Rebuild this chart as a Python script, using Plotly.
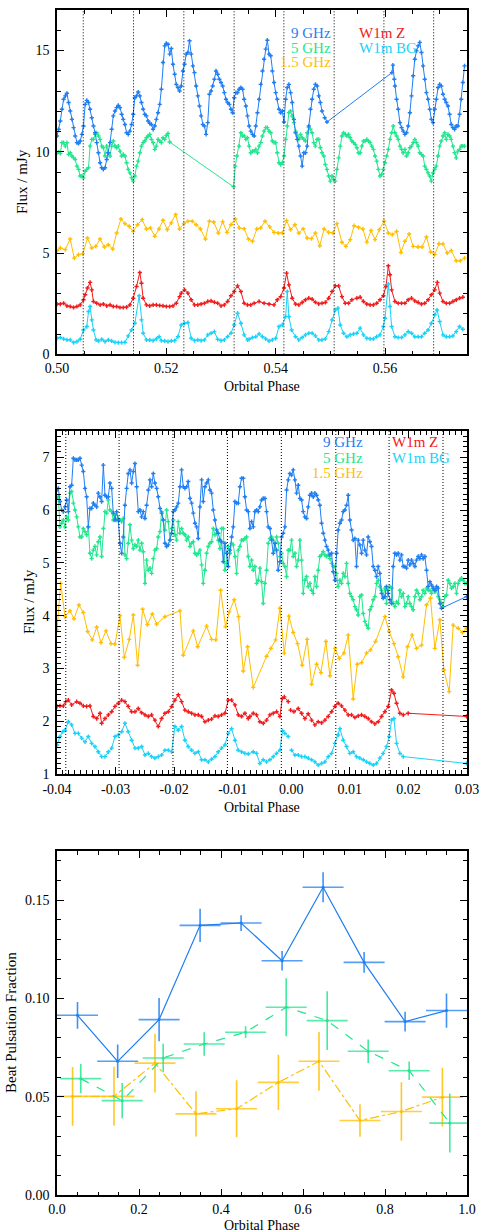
import plotly.graph_objects as go

# ---------------- Panel A: radio + optical fluxes, orbital phase 0.50-0.575 ----------------
A_9GHZ = [
    (0.50000, 10.78), (0.50030, 11.11), (0.50061, 11.52), (0.50091, 12.10), (0.50121, 12.59), (0.50152, 12.76),
    (0.50182, 12.89), (0.50212, 12.43), (0.50242, 12.01), (0.50273, 11.60), (0.50303, 11.19), (0.50333, 10.78),
    (0.50364, 10.45), (0.50394, 10.41), (0.50424, 10.53), (0.50455, 10.86), (0.50485, 11.27), (0.50515, 12.34),
    (0.50545, 12.54), (0.50576, 12.43), (0.50606, 12.10), (0.50636, 11.68), (0.50667, 11.27), (0.50697, 10.94),
    (0.50727, 10.45), (0.50758, 9.95), (0.50788, 9.46), (0.50818, 9.21), (0.50848, 9.13), (0.50879, 9.21),
    (0.50909, 9.62), (0.50939, 9.95), (0.50970, 10.45), (0.51000, 11.11), (0.51030, 11.77), (0.51061, 12.01),
    (0.51091, 12.18), (0.51121, 12.29), (0.51152, 12.18), (0.51182, 11.85), (0.51212, 11.60), (0.51242, 11.35),
    (0.51273, 10.94), (0.51303, 10.86), (0.51333, 11.02), (0.51364, 11.35), (0.51394, 11.85), (0.51424, 12.67),
    (0.51455, 12.76), (0.51485, 12.95), (0.51515, 12.76), (0.51545, 12.43), (0.51576, 12.10), (0.51606, 11.85),
    (0.51636, 11.77), (0.51667, 11.52), (0.51697, 11.40), (0.51727, 11.35), (0.51758, 11.11), (0.51788, 11.27),
    (0.51818, 11.60), (0.51848, 11.93), (0.51879, 12.34), (0.51909, 13.09), (0.51939, 14.41), (0.51970, 15.23),
    (0.52000, 15.35), (0.52030, 15.31), (0.52061, 14.82), (0.52091, 15.10), (0.52121, 14.32), (0.52152, 13.83),
    (0.52182, 13.33), (0.52212, 13.17), (0.52242, 13.00), (0.52273, 13.25), (0.52303, 13.99), (0.52333, 14.32),
    (0.52364, 14.82), (0.52394, 14.90), (0.52424, 15.48), (0.52455, 14.82), (0.52485, 14.24), (0.52515, 13.91),
    (0.52545, 13.25), (0.52576, 12.76), (0.52606, 12.26), (0.52636, 11.77), (0.52667, 11.35), (0.52697, 11.27),
    (0.52727, 10.86), (0.52758, 11.44), (0.52788, 12.84), (0.52818, 13.00), (0.52848, 13.25), (0.52879, 13.58),
    (0.52909, 13.99), (0.52939, 13.83), (0.52970, 13.58), (0.53000, 13.42), (0.53030, 13.25), (0.53061, 12.92),
    (0.53091, 12.59), (0.53121, 12.43), (0.53152, 12.34), (0.53182, 12.10), (0.53212, 11.93), (0.53242, 12.67),
    (0.53273, 12.92), (0.53303, 12.92), (0.53333, 13.09), (0.53364, 13.17), (0.53394, 13.09), (0.53424, 12.59),
    (0.53455, 12.26), (0.53485, 11.77), (0.53515, 11.27), (0.53545, 11.02), (0.53576, 10.86), (0.53606, 10.78),
    (0.53636, 11.27), (0.53667, 11.93), (0.53697, 12.59), (0.53727, 13.33), (0.53758, 13.99), (0.53788, 14.57),
    (0.53818, 15.07), (0.53848, 15.51), (0.53879, 14.82), (0.53909, 14.74), (0.53939, 13.99), (0.53970, 13.42),
    (0.54000, 12.92), (0.54030, 12.59), (0.54061, 12.10), (0.54091, 11.93), (0.54121, 12.01), (0.54152, 11.47),
    (0.54182, 12.59), (0.54212, 13.17), (0.54242, 13.33), (0.54273, 12.92), (0.54303, 12.43), (0.54333, 11.60),
    (0.54364, 10.94), (0.54394, 10.61), (0.54424, 10.28), (0.54455, 9.79), (0.54485, 9.29), (0.54515, 9.95),
    (0.54545, 9.95), (0.54576, 10.28), (0.54606, 11.27), (0.54636, 12.10), (0.54667, 12.59), (0.54697, 13.09),
    (0.54727, 13.33), (0.54758, 13.25), (0.54788, 12.76), (0.54818, 12.43), (0.54848, 12.01), (0.54897, 11.68),
    (0.54939, 11.47),
    (0.56127, 13.91), (0.56145, 14.28), (0.56170, 13.58), (0.56182, 13.25), (0.56212, 12.59), (0.56242, 12.10),
    (0.56273, 11.44), (0.56303, 11.19), (0.56333, 11.02), (0.56364, 10.86), (0.56394, 10.94), (0.56424, 11.27),
    (0.56455, 11.93), (0.56485, 12.76), (0.56515, 13.75), (0.56545, 14.57), (0.56576, 14.98), (0.56606, 15.23),
    (0.56636, 15.40), (0.56667, 14.90), (0.56697, 14.24), (0.56727, 13.58), (0.56758, 12.92), (0.56788, 12.59),
    (0.56818, 12.10), (0.56848, 11.60), (0.56879, 11.44), (0.56909, 12.10), (0.56939, 12.59), (0.56970, 13.17),
    (0.57000, 13.33), (0.57030, 13.25), (0.57061, 12.84), (0.57091, 12.59), (0.57121, 12.43), (0.57152, 12.26),
    (0.57182, 11.85), (0.57212, 11.35), (0.57242, 11.19), (0.57273, 11.11), (0.57303, 11.27), (0.57333, 11.27),
    (0.57364, 11.85), (0.57394, 12.59), (0.57424, 13.42), (0.57455, 14.24),
]

A_5GHZ = [
    (0.50000, 9.95), (0.50030, 9.98), (0.50061, 9.92), (0.50091, 10.45), (0.50121, 10.45), (0.50152, 10.28),
    (0.50182, 10.45), (0.50212, 9.87), (0.50242, 9.95), (0.50273, 9.79), (0.50303, 9.70), (0.50333, 9.62),
    (0.50364, 9.29), (0.50394, 9.13), (0.50424, 8.80), (0.50455, 8.80), (0.50485, 8.71), (0.50515, 9.04),
    (0.50545, 9.13), (0.50576, 9.21), (0.50606, 10.28), (0.50636, 10.61), (0.50667, 10.61), (0.50697, 10.86),
    (0.50727, 10.94), (0.50758, 10.78), (0.50788, 10.61), (0.50818, 10.28), (0.50848, 10.20), (0.50879, 9.79),
    (0.50909, 10.28), (0.50939, 9.95), (0.50970, 9.79), (0.51000, 10.28), (0.51030, 10.53), (0.51061, 10.28),
    (0.51091, 10.20), (0.51121, 10.28), (0.51152, 10.03), (0.51182, 9.79), (0.51212, 9.87), (0.51242, 9.79),
    (0.51273, 9.46), (0.51303, 9.13), (0.51333, 8.96), (0.51364, 8.71), (0.51394, 8.55), (0.51424, 8.80),
    (0.51455, 9.29), (0.51485, 9.54), (0.51515, 9.95), (0.51545, 10.28), (0.51576, 10.45), (0.51606, 10.53),
    (0.51636, 10.69), (0.51667, 10.78), (0.51697, 10.86), (0.51727, 10.61), (0.51758, 10.45), (0.51788, 10.12),
    (0.51818, 10.28), (0.51848, 10.61), (0.51879, 10.53), (0.51909, 10.45), (0.51939, 10.69), (0.51970, 10.61),
    (0.52000, 10.81), (0.52030, 10.91), (0.52061, 10.48),
    (0.53230, 8.27), (0.53261, 9.29), (0.53291, 9.79), (0.53333, 10.28), (0.53364, 10.94), (0.53394, 10.78),
    (0.53424, 10.78), (0.53455, 10.61), (0.53485, 10.69), (0.53515, 10.28), (0.53545, 9.95), (0.53576, 10.03),
    (0.53606, 10.03), (0.53636, 10.12), (0.53667, 9.95), (0.53697, 10.28), (0.53727, 10.45), (0.53758, 10.78),
    (0.53788, 11.02), (0.53818, 11.19), (0.53848, 11.19), (0.53879, 11.02), (0.53909, 10.94), (0.53939, 10.53),
    (0.53970, 10.45), (0.54000, 10.45), (0.54030, 9.95), (0.54061, 9.46), (0.54091, 9.37), (0.54121, 9.46),
    (0.54152, 9.79), (0.54182, 10.61), (0.54212, 11.27), (0.54242, 11.93), (0.54273, 12.01), (0.54303, 11.77),
    (0.54333, 11.44), (0.54364, 11.02), (0.54394, 10.78), (0.54424, 10.61), (0.54455, 10.86), (0.54485, 10.69),
    (0.54515, 10.61), (0.54545, 10.53), (0.54576, 10.94), (0.54606, 11.19), (0.54636, 11.11), (0.54667, 10.94),
    (0.54697, 10.45), (0.54727, 10.28), (0.54758, 10.61), (0.54788, 10.61), (0.54818, 10.20), (0.54848, 9.95),
    (0.54879, 9.79), (0.54909, 9.37), (0.54939, 9.13), (0.54970, 8.80), (0.55000, 8.55), (0.55030, 8.80),
    (0.55061, 8.63), (0.55091, 8.55), (0.55121, 9.13), (0.55152, 9.70), (0.55182, 10.28), (0.55212, 10.78),
    (0.55242, 10.94), (0.55273, 10.86), (0.55303, 10.78), (0.55333, 10.86), (0.55364, 10.69), (0.55394, 10.53),
    (0.55424, 10.45), (0.55455, 10.36), (0.55485, 10.20), (0.55515, 9.95), (0.55545, 9.95), (0.55576, 10.28),
    (0.55606, 10.53), (0.55636, 10.53), (0.55667, 10.61), (0.55697, 10.53), (0.55727, 10.45), (0.55758, 10.28),
    (0.55788, 10.12), (0.55818, 9.79), (0.55848, 9.54), (0.55879, 9.13), (0.55909, 8.80), (0.55939, 8.88),
    (0.55970, 9.13), (0.56000, 9.46), (0.56030, 9.79), (0.56061, 10.12), (0.56091, 10.61), (0.56121, 10.94),
    (0.56151, 11.27), (0.56182, 10.94), (0.56212, 10.78), (0.56242, 10.61), (0.56273, 10.28), (0.56303, 10.12),
    (0.56333, 9.95), (0.56364, 10.12), (0.56394, 9.79), (0.56424, 9.95), (0.56455, 10.20), (0.56485, 10.28),
    (0.56515, 10.45), (0.56545, 10.61), (0.56576, 10.45), (0.56606, 10.28), (0.56636, 9.95), (0.56667, 9.87),
    (0.56697, 9.79), (0.56727, 9.29), (0.56758, 9.13), (0.56788, 8.96), (0.56818, 8.80), (0.56848, 8.55),
    (0.56879, 8.96), (0.56909, 9.13), (0.56939, 9.29), (0.56970, 9.79), (0.57000, 10.28), (0.57030, 10.53),
    (0.57061, 10.78), (0.57091, 10.94), (0.57121, 10.61), (0.57152, 10.86), (0.57182, 10.78), (0.57212, 10.61),
    (0.57242, 10.28), (0.57273, 9.95), (0.57303, 9.70), (0.57333, 10.03), (0.57364, 10.12), (0.57394, 10.28),
    (0.57424, 10.28), (0.57455, 10.28),
]

A_1P5GHZ = [
    (0.50000, 5.12), (0.50061, 5.25), (0.50152, 5.17), (0.50242, 5.69), (0.50315, 4.75), (0.50394, 4.92),
    (0.50473, 4.97), (0.50558, 5.74), (0.50636, 5.25), (0.50709, 5.33), (0.50788, 5.69), (0.50867, 5.30),
    (0.50939, 5.41), (0.51018, 5.20), (0.51091, 5.99), (0.51170, 6.68), (0.51242, 6.45), (0.51321, 6.32),
    (0.51394, 6.07), (0.51473, 6.40), (0.51558, 6.65), (0.51636, 6.19), (0.51709, 6.24), (0.51788, 5.83),
    (0.51867, 6.19), (0.51939, 6.62), (0.52018, 6.16), (0.52091, 6.49), (0.52170, 6.90), (0.52242, 6.19),
    (0.52321, 6.45), (0.52394, 6.57), (0.52473, 6.57), (0.52545, 6.40), (0.52624, 6.19), (0.52715, 5.69),
    (0.52788, 6.57), (0.52867, 6.53), (0.52952, 5.99), (0.53030, 6.55), (0.53109, 6.02), (0.53182, 6.40),
    (0.53261, 6.68), (0.53333, 6.24), (0.53424, 6.20), (0.53503, 5.69), (0.53576, 5.58), (0.53655, 6.19),
    (0.53727, 6.24), (0.53806, 6.57), (0.53891, 6.29), (0.53970, 6.02), (0.54048, 5.99), (0.54121, 5.99),
    (0.54200, 6.60), (0.54273, 6.16), (0.54351, 6.40), (0.54424, 5.99), (0.54503, 6.20), (0.54576, 5.74),
    (0.54655, 5.71), (0.54727, 5.99), (0.54806, 5.36), (0.54885, 6.19), (0.54970, 6.02), (0.55048, 5.99),
    (0.55121, 6.45), (0.55212, 5.53), (0.55285, 5.33), (0.55364, 5.66), (0.55436, 6.35), (0.55515, 6.27),
    (0.55594, 6.19), (0.55667, 5.54), (0.55745, 6.11), (0.55818, 5.66), (0.55897, 6.16), (0.55982, 6.57),
    (0.56061, 5.99), (0.56133, 5.91), (0.56212, 6.07), (0.56291, 5.03), (0.56364, 5.58), (0.56442, 5.94),
    (0.56515, 5.33), (0.56606, 5.30), (0.56679, 5.30), (0.56758, 5.79), (0.56836, 5.05), (0.56909, 4.92),
    (0.56988, 5.46), (0.57061, 5.45), (0.57139, 5.00), (0.57212, 5.12), (0.57303, 4.62), (0.57376, 4.62),
    (0.57455, 4.75),
]

A_W1M_Z = [
    (0.50000, 2.48), (0.50061, 2.48), (0.50121, 2.52), (0.50182, 2.39), (0.50242, 2.36), (0.50303, 2.31),
    (0.50364, 2.36), (0.50424, 2.44), (0.50485, 2.69), (0.50515, 2.94), (0.50558, 3.27), (0.50606, 3.55),
    (0.50636, 3.18), (0.50667, 2.61), (0.50727, 2.52), (0.50788, 2.44), (0.50848, 2.48), (0.50909, 2.39),
    (0.50970, 2.44), (0.51030, 2.36), (0.51091, 2.36), (0.51152, 2.31), (0.51212, 2.31), (0.51273, 2.33),
    (0.51333, 2.44), (0.51394, 2.77), (0.51455, 3.35), (0.51515, 4.04), (0.51545, 3.51), (0.51576, 2.77),
    (0.51636, 2.44), (0.51697, 2.39), (0.51758, 2.44), (0.51818, 2.44), (0.51879, 2.41), (0.51939, 2.39),
    (0.52000, 2.36), (0.52061, 2.36), (0.52121, 2.39), (0.52182, 2.52), (0.52242, 2.85), (0.52273, 3.02),
    (0.52333, 3.18), (0.52394, 3.02), (0.52455, 2.69), (0.52515, 2.44), (0.52576, 2.44), (0.52636, 2.48),
    (0.52697, 2.52), (0.52758, 2.61), (0.52818, 2.64), (0.52879, 2.57), (0.52939, 2.52), (0.53000, 2.39),
    (0.53061, 2.44), (0.53121, 2.61), (0.53182, 2.89), (0.53242, 3.10), (0.53303, 3.38), (0.53364, 3.10),
    (0.53424, 2.52), (0.53485, 2.44), (0.53545, 2.44), (0.53606, 2.52), (0.53697, 2.61), (0.53788, 2.52),
    (0.53879, 2.48), (0.53970, 2.44), (0.54030, 2.69), (0.54091, 2.85), (0.54152, 3.27), (0.54200, 4.01),
    (0.54242, 3.43), (0.54303, 2.77), (0.54364, 2.48), (0.54424, 2.44), (0.54485, 2.56), (0.54545, 2.69),
    (0.54606, 2.77), (0.54667, 2.72), (0.54727, 2.57), (0.54788, 2.49), (0.54848, 2.52), (0.54909, 2.56),
    (0.54970, 2.77), (0.55030, 3.10), (0.55091, 3.38), (0.55152, 3.38), (0.55212, 2.85), (0.55273, 2.52),
    (0.55333, 2.52), (0.55394, 2.69), (0.55485, 2.77), (0.55545, 2.82), (0.55606, 2.61), (0.55667, 2.48),
    (0.55727, 2.44), (0.55788, 2.44), (0.55848, 2.52), (0.55909, 2.69), (0.55970, 2.89), (0.56018, 3.35),
    (0.56061, 4.37), (0.56091, 3.93), (0.56121, 3.18), (0.56182, 2.61), (0.56242, 2.52), (0.56303, 2.52),
    (0.56364, 2.52), (0.56424, 2.69), (0.56485, 2.77), (0.56545, 2.64), (0.56606, 2.56), (0.56667, 2.48),
    (0.56727, 2.52), (0.56788, 2.69), (0.56848, 2.94), (0.56909, 3.18), (0.56958, 3.55), (0.57000, 3.02),
    (0.57061, 2.61), (0.57121, 2.52), (0.57182, 2.52), (0.57242, 2.61), (0.57303, 2.69), (0.57364, 2.77),
    (0.57424, 2.82),
]

A_W1M_BG = [
    (0.50000, 0.79), (0.50061, 0.83), (0.50121, 0.76), (0.50182, 0.71), (0.50242, 0.71), (0.50303, 0.58),
    (0.50364, 0.63), (0.50424, 0.74), (0.50485, 1.20), (0.50545, 1.37), (0.50576, 2.11), (0.50606, 2.36),
    (0.50636, 1.70), (0.50667, 1.20), (0.50715, 0.71), (0.50758, 0.66), (0.50818, 0.74), (0.50879, 0.63),
    (0.50939, 0.71), (0.51000, 0.66), (0.51061, 0.59), (0.51121, 0.58), (0.51182, 0.58), (0.51242, 0.59),
    (0.51303, 0.91), (0.51364, 1.20), (0.51424, 1.53), (0.51503, 2.89), (0.51545, 1.70), (0.51576, 1.04),
    (0.51636, 0.71), (0.51697, 0.71), (0.51758, 0.68), (0.51818, 0.76), (0.51867, 0.87), (0.51909, 0.68),
    (0.51970, 0.66), (0.52030, 0.63), (0.52091, 0.66), (0.52152, 0.68), (0.52212, 0.87), (0.52273, 1.45),
    (0.52333, 1.53), (0.52394, 1.57), (0.52455, 0.79), (0.52515, 0.68), (0.52576, 0.71), (0.52636, 0.68),
    (0.52697, 0.71), (0.52758, 0.96), (0.52818, 1.04), (0.52879, 1.12), (0.52939, 0.74), (0.53000, 0.68),
    (0.53061, 0.71), (0.53121, 0.87), (0.53182, 1.04), (0.53242, 1.45), (0.53303, 2.03), (0.53364, 1.53),
    (0.53424, 0.96), (0.53485, 0.71), (0.53515, 0.74), (0.53576, 0.83), (0.53636, 0.87), (0.53697, 1.01),
    (0.53758, 0.87), (0.53818, 0.76), (0.53879, 0.66), (0.53939, 0.71), (0.54000, 0.79), (0.54061, 1.37),
    (0.54121, 1.45), (0.54182, 1.86), (0.54212, 3.10), (0.54242, 1.86), (0.54291, 1.20), (0.54364, 0.87),
    (0.54424, 0.71), (0.54485, 0.83), (0.54545, 0.96), (0.54606, 1.04), (0.54667, 1.04), (0.54727, 0.91),
    (0.54788, 0.71), (0.54848, 0.71), (0.54909, 0.76), (0.54970, 1.12), (0.55030, 1.70), (0.55091, 2.19),
    (0.55139, 2.28), (0.55182, 1.45), (0.55242, 1.04), (0.55303, 0.87), (0.55364, 0.96), (0.55424, 1.01),
    (0.55485, 1.04), (0.55545, 1.29), (0.55606, 0.96), (0.55667, 0.79), (0.55727, 0.76), (0.55788, 0.76),
    (0.55848, 0.87), (0.55909, 0.96), (0.55970, 1.37), (0.56000, 1.78), (0.56061, 3.47), (0.56091, 2.36),
    (0.56121, 1.37), (0.56182, 0.87), (0.56242, 0.83), (0.56303, 0.83), (0.56364, 0.96), (0.56424, 1.12),
    (0.56485, 1.04), (0.56545, 0.87), (0.56606, 0.87), (0.56667, 0.87), (0.56727, 1.04), (0.56788, 1.20),
    (0.56848, 1.53), (0.56909, 1.95), (0.56952, 2.19), (0.57000, 1.62), (0.57061, 0.96), (0.57121, 0.87),
    (0.57182, 0.87), (0.57242, 0.91), (0.57303, 1.12), (0.57364, 1.37), (0.57424, 1.24),
]

# beat-period markers (dotted verticals)
BEAT_A = [0.5048, 0.5140, 0.5232, 0.5324, 0.5415, 0.5507, 0.5598, 0.5689]

# ---------------- Panel B: orbital phase -0.04 to 0.03 ----------------
B_9GHZ = [
    (-0.04000, 6.38), (-0.03977, 6.41), (-0.03949, 6.16), (-0.03920, 6.00), (-0.03892, 5.97), (-0.03863, 6.06),
    (-0.03835, 6.19), (-0.03807, 5.97), (-0.03778, 6.44), (-0.03750, 6.47), (-0.03721, 6.98), (-0.03693, 6.95),
    (-0.03664, 6.95), (-0.03636, 6.95), (-0.03608, 6.98), (-0.03579, 6.85), (-0.03551, 6.73), (-0.03522, 6.41),
    (-0.03494, 6.25), (-0.03465, 5.68), (-0.03437, 6.03), (-0.03408, 6.03), (-0.03380, 6.13), (-0.03352, 6.09),
    (-0.03323, 6.06), (-0.03295, 6.32), (-0.03266, 6.25), (-0.03238, 6.16), (-0.03209, 6.85), (-0.03181, 6.28),
    (-0.03152, 6.25), (-0.03124, 6.25), (-0.03096, 6.51), (-0.03067, 6.41), (-0.03039, 5.94), (-0.03010, 5.81),
    (-0.02982, 5.97), (-0.02953, 5.81), (-0.02925, 5.37), (-0.02896, 5.18), (-0.02868, 5.49), (-0.02840, 6.09),
    (-0.02811, 6.41), (-0.02783, 6.69), (-0.02754, 6.76), (-0.02726, 6.51), (-0.02697, 6.73), (-0.02669, 6.88),
    (-0.02640, 6.44), (-0.02612, 5.97), (-0.02584, 6.00), (-0.02555, 5.87), (-0.02527, 5.97), (-0.02498, 5.84),
    (-0.02470, 6.09), (-0.02441, 6.38), (-0.02413, 6.57), (-0.02385, 6.44), (-0.02356, 6.69), (-0.02328, 6.51),
    (-0.02299, 6.41), (-0.02271, 6.25), (-0.02242, 6.03), (-0.02214, 5.94), (-0.02185, 5.81), (-0.02157, 5.37),
    (-0.02129, 5.31), (-0.02100, 5.34), (-0.02072, 5.43), (-0.02043, 5.56), (-0.02015, 5.97), (-0.01986, 6.00),
    (-0.01958, 6.06), (-0.01929, 6.13), (-0.01901, 6.44), (-0.01873, 6.76), (-0.01844, 6.44), (-0.01816, 6.41),
    (-0.01787, 6.44), (-0.01759, 6.54), (-0.01730, 6.22), (-0.01702, 6.13), (-0.01673, 5.94), (-0.01645, 5.75),
    (-0.01617, 5.68), (-0.01588, 5.46), (-0.01560, 6.06), (-0.01531, 6.57), (-0.01503, 6.16), (-0.01474, 6.44),
    (-0.01446, 6.51), (-0.01417, 6.57), (-0.01389, 6.38), (-0.01361, 6.32), (-0.01332, 6.00), (-0.01304, 5.81),
    (-0.01275, 5.62), (-0.01247, 5.56), (-0.01218, 5.43), (-0.01190, 5.40), (-0.01161, 5.02), (-0.01133, 5.37),
    (-0.01105, 5.18), (-0.01076, 4.93), (-0.01048, 5.24), (-0.01019, 5.49), (-0.00991, 5.68), (-0.00962, 6.16),
    (-0.00934, 6.13), (-0.00905, 6.13), (-0.00877, 6.44), (-0.00849, 6.60), (-0.00820, 6.60), (-0.00792, 6.25),
    (-0.00763, 6.00), (-0.00735, 5.97), (-0.00706, 5.65), (-0.00678, 5.78), (-0.00649, 5.68), (-0.00621, 5.97),
    (-0.00593, 6.00), (-0.00564, 5.97), (-0.00536, 6.06), (-0.00507, 6.19), (-0.00479, 6.22), (-0.00450, 6.22),
    (-0.00422, 5.97), (-0.00393, 5.68), (-0.00365, 5.65), (-0.00336, 5.43), (-0.00308, 5.18), (-0.00280, 5.37),
    (-0.00251, 5.24), (-0.00223, 4.86), (-0.00194, 5.02), (-0.00166, 5.49), (-0.00137, 5.56), (-0.00109, 5.68),
    (-0.00080, 6.38), (-0.00052, 6.57), (-0.00024, 6.69), (0.00005, 6.66), (0.00033, 6.76), (0.00062, 6.57),
    (0.00090, 6.32), (0.00119, 6.47), (0.00147, 6.22), (0.00176, 6.19), (0.00204, 5.97), (0.00232, 5.87),
    (0.00261, 5.84), (0.00289, 6.06), (0.00318, 6.28), (0.00346, 6.32), (0.00375, 6.25), (0.00403, 6.32),
    (0.00432, 6.28), (0.00460, 6.19), (0.00488, 6.09), (0.00517, 5.75), (0.00545, 5.56), (0.00574, 5.43),
    (0.00602, 5.31), (0.00631, 5.24), (0.00659, 5.15), (0.00688, 5.18), (0.00716, 4.83), (0.00744, 4.67),
    (0.00773, 5.18), (0.00801, 5.62), (0.00830, 5.75), (0.00858, 5.81), (0.00887, 5.97), (0.00915, 6.00),
    (0.00944, 6.09), (0.00972, 6.28), (0.01000, 5.81), (0.01029, 5.62), (0.01057, 5.43), (0.01086, 5.46),
    (0.01114, 4.93), (0.01143, 5.43), (0.01171, 5.34), (0.01200, 5.18), (0.01228, 5.43), (0.01256, 5.24),
    (0.01285, 5.15), (0.01313, 5.49), (0.01342, 5.40), (0.01370, 5.31), (0.01399, 4.93), (0.01427, 4.86),
    (0.01456, 4.74), (0.01484, 4.93), (0.01512, 4.80), (0.01541, 4.42), (0.01569, 4.33), (0.01598, 4.36),
    (0.01626, 4.55), (0.01655, 4.42), (0.01683, 4.30), (0.01712, 4.23), (0.01740, 4.93), (0.01768, 5.18),
    (0.01797, 5.15), (0.01825, 5.18), (0.01854, 5.05), (0.01882, 5.15), (0.01911, 4.93), (0.01939, 4.93),
    (0.01968, 4.90), (0.01996, 5.05), (0.02024, 4.96), (0.02053, 5.05), (0.02081, 4.99), (0.02110, 4.93),
    (0.02138, 5.05), (0.02167, 5.12), (0.02195, 5.08), (0.02224, 5.15), (0.02252, 5.08), (0.02281, 5.12),
    (0.02309, 4.86), (0.02337, 4.55), (0.02366, 4.64), (0.02394, 4.58), (0.02423, 4.52), (0.02451, 4.48),
    (0.02480, 4.55), (0.02508, 4.52), (0.02537, 4.23), (0.02565, 4.14), (0.02992, 4.36),
]

B_5GHZ = [
    (-0.04000, 6.22), (-0.03977, 6.25), (-0.03949, 5.68), (-0.03920, 5.75), (-0.03892, 5.81), (-0.03863, 5.68),
    (-0.03835, 5.87), (-0.03807, 5.81), (-0.03778, 6.32), (-0.03750, 6.35), (-0.03721, 6.13), (-0.03693, 6.00),
    (-0.03664, 5.87), (-0.03636, 5.68), (-0.03608, 5.49), (-0.03579, 5.49), (-0.03551, 5.65), (-0.03522, 5.59),
    (-0.03494, 5.53), (-0.03465, 5.68), (-0.03437, 5.18), (-0.03408, 5.08), (-0.03380, 5.24), (-0.03352, 5.31),
    (-0.03323, 5.15), (-0.03295, 5.40), (-0.03266, 5.49), (-0.03238, 5.12), (-0.03209, 5.65), (-0.03181, 5.97),
    (-0.03152, 5.94), (-0.03124, 6.19), (-0.03096, 6.00), (-0.03067, 5.97), (-0.03039, 5.81), (-0.03010, 5.91),
    (-0.02982, 5.81), (-0.02953, 5.84), (-0.02925, 5.81), (-0.02896, 5.78), (-0.02868, 5.84), (-0.02840, 5.15),
    (-0.02811, 5.08), (-0.02783, 5.37), (-0.02754, 5.72), (-0.02726, 5.43), (-0.02697, 5.27), (-0.02669, 5.34),
    (-0.02640, 5.31), (-0.02612, 5.43), (-0.02584, 5.24), (-0.02555, 5.37), (-0.02527, 5.21), (-0.02498, 4.61),
    (-0.02470, 5.05), (-0.02441, 4.86), (-0.02413, 4.90), (-0.02385, 4.80), (-0.02356, 5.08), (-0.02328, 5.24),
    (-0.02299, 5.27), (-0.02271, 5.49), (-0.02242, 5.59), (-0.02214, 5.97), (-0.02185, 5.81), (-0.02157, 5.62),
    (-0.02129, 6.00), (-0.02100, 5.78), (-0.02072, 5.43), (-0.02043, 5.65), (-0.02015, 5.81), (-0.01986, 5.53),
    (-0.01958, 5.43), (-0.01929, 5.78), (-0.01901, 5.56), (-0.01873, 5.65), (-0.01844, 5.56), (-0.01816, 5.53),
    (-0.01787, 5.43), (-0.01759, 5.49), (-0.01730, 5.31), (-0.01702, 5.37), (-0.01673, 5.40), (-0.01645, 5.18),
    (-0.01617, 5.15), (-0.01588, 5.18), (-0.01560, 5.24), (-0.01531, 4.96), (-0.01503, 4.61), (-0.01474, 4.86),
    (-0.01446, 5.18), (-0.01417, 5.31), (-0.01389, 5.37), (-0.01361, 5.40), (-0.01332, 5.65), (-0.01304, 5.53),
    (-0.01275, 5.56), (-0.01247, 5.43), (-0.01218, 5.27), (-0.01190, 5.65), (-0.01161, 5.65), (-0.01133, 4.86),
    (-0.01105, 4.99), (-0.01076, 5.31), (-0.01048, 5.18), (-0.01019, 5.37), (-0.00991, 5.34), (-0.00962, 5.12),
    (-0.00934, 4.80), (-0.00905, 5.24), (-0.00877, 5.31), (-0.00849, 5.43), (-0.00820, 5.43), (-0.00792, 5.46),
    (-0.00763, 5.49), (-0.00735, 5.12), (-0.00706, 4.93), (-0.00678, 5.05), (-0.00649, 4.86), (-0.00621, 4.93),
    (-0.00593, 4.61), (-0.00564, 4.67), (-0.00536, 4.90), (-0.00507, 4.64), (-0.00479, 4.23), (-0.00450, 4.61),
    (-0.00422, 4.86), (-0.00393, 5.37), (-0.00365, 5.46), (-0.00336, 5.49), (-0.00308, 5.43), (-0.00280, 5.24),
    (-0.00251, 5.49), (-0.00223, 5.37), (-0.00194, 5.12), (-0.00166, 5.18), (-0.00137, 4.99), (-0.00109, 4.93),
    (-0.00080, 4.74), (-0.00052, 5.24), (-0.00024, 5.24), (0.00005, 5.43), (0.00033, 5.12), (0.00062, 5.18),
    (0.00090, 4.93), (0.00119, 5.05), (0.00147, 5.43), (0.00176, 5.05), (0.00204, 4.42), (0.00232, 4.67),
    (0.00261, 4.74), (0.00289, 4.55), (0.00318, 4.61), (0.00346, 4.48), (0.00375, 4.42), (0.00403, 4.74),
    (0.00432, 4.55), (0.00460, 4.86), (0.00488, 5.12), (0.00517, 5.15), (0.00545, 5.21), (0.00574, 5.15),
    (0.00602, 5.12), (0.00631, 5.15), (0.00659, 5.08), (0.00688, 4.99), (0.00716, 4.93), (0.00744, 4.93),
    (0.00773, 4.80), (0.00801, 4.55), (0.00830, 4.67), (0.00858, 4.61), (0.00887, 4.80), (0.00915, 4.74),
    (0.00944, 4.99), (0.00972, 4.61), (0.01000, 4.42), (0.01029, 4.36), (0.01057, 4.30), (0.01086, 4.17),
    (0.01114, 4.11), (0.01143, 4.01), (0.01171, 4.36), (0.01200, 4.39), (0.01228, 4.04), (0.01256, 3.89),
    (0.01285, 3.82), (0.01313, 3.76), (0.01342, 4.11), (0.01370, 4.17), (0.01399, 4.30), (0.01427, 4.36),
    (0.01456, 4.61), (0.01484, 4.67), (0.01512, 4.55), (0.01541, 4.48), (0.01569, 4.36), (0.01598, 4.52),
    (0.01626, 4.23), (0.01655, 4.48), (0.01683, 4.55), (0.01712, 4.52), (0.01740, 4.23), (0.01768, 4.17),
    (0.01797, 4.26), (0.01825, 4.23), (0.01854, 4.48), (0.01882, 4.36), (0.01911, 4.42), (0.01939, 4.17),
    (0.01968, 4.23), (0.01996, 4.36), (0.02024, 4.23), (0.02053, 4.17), (0.02081, 4.11), (0.02110, 4.36),
    (0.02138, 4.48), (0.02167, 4.42), (0.02195, 4.30), (0.02224, 4.36), (0.02252, 4.48), (0.02281, 4.42),
    (0.02309, 4.52), (0.02337, 4.48), (0.02366, 4.48), (0.02394, 4.42), (0.02423, 4.52), (0.02451, 4.45),
    (0.02480, 4.48), (0.02508, 4.36), (0.02537, 4.30), (0.02565, 4.23), (0.02593, 4.17), (0.02622, 4.36),
    (0.02650, 4.39), (0.02679, 4.67), (0.02707, 4.61), (0.02736, 4.52), (0.02764, 4.55), (0.02793, 4.61),
    (0.02821, 4.42), (0.02849, 4.61), (0.02878, 4.67), (0.02906, 4.71), (0.02935, 4.67), (0.02963, 4.61),
    (0.02992, 4.61),
]

B_1P5GHZ = [
    (-0.04000, 3.73), (-0.03937, 4.61), (-0.03863, 3.98), (-0.03778, 4.09), (-0.03710, 3.94), (-0.03625, 4.20),
    (-0.03551, 4.06), (-0.03477, 3.70), (-0.03397, 3.54), (-0.03323, 3.78), (-0.03249, 3.49), (-0.03164, 3.71),
    (-0.03078, 3.47), (-0.03010, 3.46), (-0.02925, 4.00), (-0.02851, 3.21), (-0.02766, 3.55), (-0.02697, 4.01),
    (-0.02624, 3.06), (-0.02538, 4.12), (-0.02458, 3.83), (-0.02373, 4.03), (-0.02299, 3.84), (-0.02157, 3.98),
    (-0.01901, 4.09), (-0.01844, 3.25), (-0.01673, 3.71), (-0.01599, 3.41), (-0.01446, 3.80), (-0.01361, 3.55),
    (-0.01287, 3.54), (-0.01207, 4.48), (-0.01122, 3.79), (-0.01059, 4.07), (-0.00974, 4.30), (-0.00900, 3.98),
    (-0.00820, 2.95), (-0.00746, 3.41), (-0.00649, 2.64), (-0.00422, 3.23), (-0.00348, 3.38), (-0.00268, 3.54),
    (-0.00194, 4.14), (-0.00120, 3.29), (-0.00041, 3.99), (0.00033, 3.68), (0.00107, 3.47), (0.00187, 3.06),
    (0.00272, 3.55), (0.00346, 2.70), (0.00432, 3.08), (0.00506, 2.92), (0.00591, 3.51), (0.00659, 2.86),
    (0.00744, 3.38), (0.00819, 3.19), (0.00898, 3.29), (0.00972, 3.63), (0.01057, 2.42), (0.01126, 3.08),
    (0.01200, 3.11), (0.01285, 3.29), (0.01353, 3.35), (0.01439, 3.51), (0.01598, 3.98), (0.01672, 3.70),
    (0.01752, 3.47), (0.01825, 3.22), (0.01911, 2.84), (0.01985, 3.41), (0.02064, 3.63), (0.02138, 3.38),
    (0.02224, 3.44), (0.02309, 4.20), (0.02377, 4.33), (0.02451, 3.38), (0.02537, 3.92), (0.02605, 2.97),
    (0.02696, 2.56), (0.02764, 3.82), (0.02849, 3.76), (0.02923, 3.68), (0.02992, 3.76),
]

B_W1M_Z = [
    (-0.04000, 2.28), (-0.03949, 2.29), (-0.03892, 2.29), (-0.03852, 2.37), (-0.03807, 2.40), (-0.03750, 2.31),
    (-0.03664, 2.37), (-0.03608, 2.34), (-0.03551, 2.29), (-0.03494, 2.28), (-0.03437, 2.29), (-0.03380, 2.09),
    (-0.03323, 2.05), (-0.03266, 2.15), (-0.03238, 1.96), (-0.03181, 2.05), (-0.03124, 2.12), (-0.03067, 2.18),
    (-0.03010, 2.28), (-0.02953, 2.34), (-0.02896, 2.40), (-0.02840, 2.37), (-0.02783, 2.28), (-0.02726, 2.18),
    (-0.02669, 2.18), (-0.02612, 2.24), (-0.02555, 2.16), (-0.02498, 2.12), (-0.02441, 2.09), (-0.02385, 2.12),
    (-0.02328, 2.02), (-0.02271, 1.90), (-0.02214, 2.05), (-0.02157, 2.15), (-0.02100, 2.18), (-0.02043, 2.28),
    (-0.01986, 2.40), (-0.01929, 2.50), (-0.01873, 2.37), (-0.01816, 2.21), (-0.01759, 2.18), (-0.01702, 2.15),
    (-0.01645, 2.12), (-0.01588, 2.12), (-0.01531, 2.09), (-0.01474, 1.99), (-0.01417, 2.02), (-0.01361, 2.04),
    (-0.01304, 2.10), (-0.01247, 2.09), (-0.01190, 2.12), (-0.01133, 2.15), (-0.01076, 2.40), (-0.01019, 2.40),
    (-0.00962, 2.31), (-0.00905, 2.12), (-0.00849, 2.09), (-0.00792, 2.15), (-0.00735, 2.05), (-0.00706, 2.09),
    (-0.00649, 2.15), (-0.00593, 2.12), (-0.00536, 1.99), (-0.00479, 1.96), (-0.00422, 2.02), (-0.00365, 2.12),
    (-0.00308, 2.15), (-0.00251, 2.18), (-0.00194, 2.09), (-0.00154, 2.43), (-0.00120, 2.46), (-0.00052, 2.37),
    None,
    (-0.00012, 2.21), (0.00045, 2.18), (0.00119, 2.24), (0.00176, 2.15), (0.00232, 2.05), (0.00289, 2.14),
    (0.00346, 2.02), (0.00403, 1.93), (0.00460, 1.99), (0.00517, 1.97), (0.00574, 2.02), (0.00631, 2.09),
    (0.00688, 2.18), (0.00744, 2.28), (0.00801, 2.34), (0.00858, 2.29), (0.00915, 2.21), (0.00972, 2.12),
    (0.01029, 2.12), (0.01086, 2.07), (0.01143, 2.10), (0.01200, 2.12), (0.01256, 2.09), (0.01313, 2.05),
    (0.01370, 1.99), (0.01427, 1.95), (0.01484, 1.99), (0.01541, 2.09), (0.01598, 2.18), (0.01655, 2.28),
    (0.01712, 2.59), (0.01752, 2.53), (0.01797, 2.34), (0.01854, 2.15), (0.01911, 2.12), (0.01996, 2.15),
    (0.02992, 2.09),
]

B_W1M_BG = [
    (-0.04000, 1.55), (-0.03949, 1.71), (-0.03903, 1.80), (-0.03863, 1.83), (-0.03807, 1.99), (-0.03750, 1.93),
    (-0.03693, 1.77), (-0.03636, 1.77), (-0.03579, 1.68), (-0.03522, 1.61), (-0.03465, 1.71), (-0.03408, 1.58),
    (-0.03352, 1.52), (-0.03295, 1.42), (-0.03238, 1.33), (-0.03181, 1.33), (-0.03124, 1.42), (-0.03067, 1.49),
    (-0.03010, 1.71), (-0.02953, 1.74), (-0.02896, 1.80), (-0.02840, 1.96), (-0.02783, 1.80), (-0.02726, 1.64),
    (-0.02669, 1.49), (-0.02612, 1.49), (-0.02555, 1.52), (-0.02498, 1.36), (-0.02441, 1.39), (-0.02385, 1.33),
    (-0.02328, 1.30), (-0.02271, 1.33), (-0.02214, 1.36), (-0.02157, 1.45), (-0.02100, 1.45), (-0.02043, 1.42),
    (-0.01986, 1.90), (-0.01929, 1.83), (-0.01873, 1.90), (-0.01816, 1.64), (-0.01759, 1.52), (-0.01702, 1.45),
    (-0.01645, 1.39), (-0.01588, 1.42), (-0.01531, 1.27), (-0.01474, 1.27), (-0.01417, 1.23), (-0.01361, 1.28),
    (-0.01304, 1.33), (-0.01247, 1.42), (-0.01190, 1.49), (-0.01133, 1.55), (-0.01076, 1.77), (-0.01019, 1.86),
    (-0.00962, 1.64), (-0.00905, 1.45), (-0.00849, 1.42), (-0.00792, 1.39), (-0.00735, 1.38), (-0.00649, 1.42),
    (-0.00593, 1.39), (-0.00536, 1.20), (-0.00479, 1.27), (-0.00422, 1.23), (-0.00365, 1.27), (-0.00308, 1.33),
    (-0.00251, 1.39), (-0.00194, 1.45), (-0.00149, 1.82), (-0.00109, 1.77), (-0.00052, 1.71),
    None,
    (0.00005, 1.45), (0.00062, 1.36), (0.00119, 1.36), (0.00176, 1.33), (0.00232, 1.33), (0.00289, 1.30),
    (0.00346, 1.27), (0.00403, 1.23), (0.00460, 1.17), (0.00517, 1.20), (0.00574, 1.23), (0.00631, 1.33),
    (0.00688, 1.39), (0.00744, 1.58), (0.00801, 1.74), (0.00830, 1.86), (0.00887, 1.64), (0.00944, 1.52),
    (0.01000, 1.39), (0.01057, 1.42), (0.01114, 1.33), (0.01171, 1.30), (0.01228, 1.27), (0.01285, 1.23),
    (0.01342, 1.20), (0.01399, 1.17), (0.01456, 1.20), (0.01512, 1.30), (0.01569, 1.39), (0.01626, 1.52),
    (0.01672, 1.71), (0.01712, 2.02), (0.01752, 2.05), (0.01797, 1.58), (0.01854, 1.39), (0.01911, 1.33),
    (0.02992, 1.20),
]

BEAT_B = [-0.0385, -0.0294, -0.0202, -0.0109, -0.0017, 0.0076, 0.0167, 0.0259]
B_XTICKS = [-0.04, -0.03, -0.02, -0.01, 0.00, 0.01, 0.02, 0.03]
B_XTICKTEXT = ["-0.04", "-0.03", "-0.02", "-0.01", "0.00", "0.01", "0.02", "0.03"]

# ---------------- Panel C: beat pulsation fraction vs orbital phase ----------------
C_BIN_HALF = [0.05] * 10
C_9GHZ_PHASE = [0.050, 0.148, 0.249, 0.349, 0.449, 0.549, 0.649, 0.749, 0.849, 0.950]
C_9GHZ_FRAC = [0.0915, 0.0681, 0.0893, 0.1372, 0.1384, 0.1192, 0.1566, 0.1184, 0.0883, 0.0939]
C_9GHZ_ERR = [0.0068, 0.0085, 0.0110, 0.0085, 0.0040, 0.0050, 0.0076, 0.0053, 0.0050, 0.0087]

C_5GHZ_PHASE = [0.058, 0.159, 0.259, 0.359, 0.460, 0.559, 0.659, 0.759, 0.859, 0.958]
C_5GHZ_FRAC = [0.0593, 0.0481, 0.0698, 0.0769, 0.0829, 0.0956, 0.0888, 0.0732, 0.0633, 0.0367]
C_5GHZ_ERR = [0.0074, 0.0090, 0.0072, 0.0060, 0.0030, 0.0147, 0.0149, 0.0060, 0.0047, 0.0150]

C_1P5GHZ_PHASE = [0.038, 0.139, 0.239, 0.339, 0.438, 0.540, 0.639, 0.739, 0.840, 0.940]
C_1P5GHZ_FRAC = [0.0503, 0.0503, 0.0672, 0.0414, 0.0440, 0.0574, 0.0681, 0.0380, 0.0426, 0.0499]
C_1P5GHZ_ERR = [0.0149, 0.0150, 0.0149, 0.0115, 0.0145, 0.0140, 0.0149, 0.0083, 0.0149, 0.0149]

BAND_LABELS = ["9 GHz", "5 GHz", "1.5 GHz"]
OPT_LABELS = ["W1m Z", "W1m BG"]

# ---------------- styling ----------------
COL_9 = "#1f7ef2"
COL_5 = "#22e68e"
COL_15 = "#ffbf00"
COL_Z = "#f21a1a"
COL_BG = "#1ad2f7"
FONT = "Liberation Serif"

W, H = 487, 1232
XL, XR = 57, 467
PANELS = {  # pixel top/bottom of each plotting box
    "A": (10, 354.3),
    "B": (430.8, 774.0),
    "C": (851.0, 1195.3),
}


def dom_y(top, bottom):
    return [1 - bottom / H, 1 - top / H]


def split(pairs):
    xs = [p[0] if p is not None else None for p in pairs]
    ys = [p[1] if p is not None else None for p in pairs]
    return xs, ys


fig = go.Figure()


def add_series(pairs, color, xa, ya):
    xs, ys = split(pairs)
    fig.add_trace(go.Scatter(
        x=xs, y=ys, mode="lines+markers", xaxis=xa, yaxis=ya,
        line=dict(color=color, width=1),
        marker=dict(symbol="cross", size=3.5, color=color, line=dict(width=0)),
        connectgaps=False, showlegend=False, hoverinfo="skip",
    ))


for series, col in [(A_1P5GHZ, COL_15), (A_W1M_Z, COL_Z), (A_W1M_BG, COL_BG), (A_5GHZ, COL_5), (A_9GHZ, COL_9)]:
    add_series(series, col, "x", "y")
for series, col in [(B_1P5GHZ, COL_15), (B_W1M_Z, COL_Z), (B_W1M_BG, COL_BG), (B_5GHZ, COL_5), (B_9GHZ, COL_9)]:
    add_series(series, col, "x2", "y2")


def rgba(hex_col, a):
    r, g, b = int(hex_col[1:3], 16), int(hex_col[3:5], 16), int(hex_col[5:7], 16)
    return f"rgba({r},{g},{b},{a})"


for ph, fr, er, col, dash in [
    (C_1P5GHZ_PHASE, C_1P5GHZ_FRAC, C_1P5GHZ_ERR, COL_15, "dashdot"),
    (C_5GHZ_PHASE, C_5GHZ_FRAC, C_5GHZ_ERR, COL_5, "dash"),
    (C_9GHZ_PHASE, C_9GHZ_FRAC, C_9GHZ_ERR, COL_9, "solid"),
]:
    fig.add_trace(go.Scatter(
        x=ph, y=fr, mode="lines+markers", xaxis="x3", yaxis="y3",
        line=dict(color=col, width=1.2, dash=dash),
        marker=dict(symbol="circle", size=3, color=col),
        error_x=dict(type="data", array=C_BIN_HALF, color=rgba(col, 0.75), thickness=1.6, width=0),
        error_y=dict(type="data", array=er, color=rgba(col, 0.85), thickness=1.6, width=0),
        showlegend=False, hoverinfo="skip",
    ))

shapes = []
for xv in BEAT_A:
    shapes.append(dict(type="line", xref="x", yref="y domain", x0=xv, x1=xv, y0=0, y1=1,
                       line=dict(color="black", width=1, dash="1px,2px"), layer="above"))
for xv in BEAT_B:
    shapes.append(dict(type="line", xref="x2", yref="y2 domain", x0=xv, x1=xv, y0=0, y1=1,
                       line=dict(color="black", width=1, dash="1px,2px"), layer="above"))

xdom = [XL / W, XR / W]


def axis_common(standoff=3, **kw):
    d = dict(
        domain=xdom, automargin=False, showgrid=False, zeroline=False, showline=True, linecolor="black",
        linewidth=1.5, mirror="allticks", ticks="inside", ticklen=7, tickwidth=1, tickcolor="black",
        tickfont=dict(family=FONT, size=14, color="black"), ticklabelstandoff=standoff,
    )
    d.update(kw)
    return d


layout = dict(
    width=W, height=H, margin=dict(l=0, r=0, t=0, b=0, pad=0, autoexpand=False),
    paper_bgcolor="white", plot_bgcolor="white", showlegend=False, shapes=shapes,
    xaxis=axis_common(standoff=0, anchor="y", range=[0.5, 0.575], tick0=0.5, dtick=0.02, tickformat=".2f",
                      minor=dict(dtick=0.005, ticks="inside", ticklen=4, tickcolor="black")),
    yaxis=axis_common(anchor="x", domain=dom_y(*PANELS["A"]), range=[0, 17], tick0=0, dtick=5,
                      minor=dict(dtick=1, ticks="inside", ticklen=4, tickcolor="black")),
    xaxis2=axis_common(standoff=1, anchor="y2", range=[-0.04, 0.03], tickvals=B_XTICKS, ticktext=B_XTICKTEXT,
                       minor=dict(tickvals=[round(-0.04 + i * 0.001, 3) for i in range(71)],
                                  ticks="inside", ticklen=4, tickcolor="black")),
    yaxis2=axis_common(anchor="x2", domain=dom_y(*PANELS["B"]), range=[1, 7.5], tick0=0, dtick=1,
                       minor=dict(dtick=0.1, ticks="inside", ticklen=4, tickcolor="black")),
    xaxis3=axis_common(standoff=0, anchor="y3", range=[0, 1], tick0=0, dtick=0.2, tickformat=".1f",
                       minor=dict(dtick=0.05, ticks="inside", ticklen=4, tickcolor="black")),
    yaxis3=axis_common(anchor="x3", domain=dom_y(*PANELS["C"]), range=[0, 0.175], tick0=0, dtick=0.05,
                       tickformat=".2f", minor=dict(dtick=0.01, ticks="inside", ticklen=4, tickcolor="black")),
)
fig.update_layout(**layout)


def ann(text, x_px, y_px, size=14, color="black", xanchor="center", angle=0):
    fig.add_annotation(text=text, x=x_px / W, y=1 - y_px / H, xref="paper", yref="paper",
                       showarrow=False, xanchor=xanchor, yanchor="middle", textangle=angle,
                       font=dict(family=FONT, size=size, color=color))


# axis titles
ann("Orbital Phase", 262, 386, size=14)
ann("Orbital Phase", 262, 807, size=14)
ann("Orbital Phase", 262, 1225, size=14)
ann("Flux / mJy", 22, 182, size=15, angle=-90)
ann("Flux / mJy", 29, 602, size=15, angle=-90)
ann("Beat Pulsation Fraction", 11, 1023, size=15, angle=-90)

# in-panel labels
band_cols = [COL_9, COL_5, COL_15]
opt_cols = [COL_Z, COL_BG]
for (xr, xl, ys) in [(333, 357, [33, 48, 62]), (365, 390, [442, 458, 473])]:
    for lbl, col, yy in zip(BAND_LABELS, band_cols, ys):
        ann(lbl, xr, yy, size=15, color=col, xanchor="right")
    for lbl, col, yy in zip(OPT_LABELS, opt_cols, ys[:2]):
        ann(lbl, xl, yy, size=15, color=col, xanchor="left")

fig.write_html("out.html")
